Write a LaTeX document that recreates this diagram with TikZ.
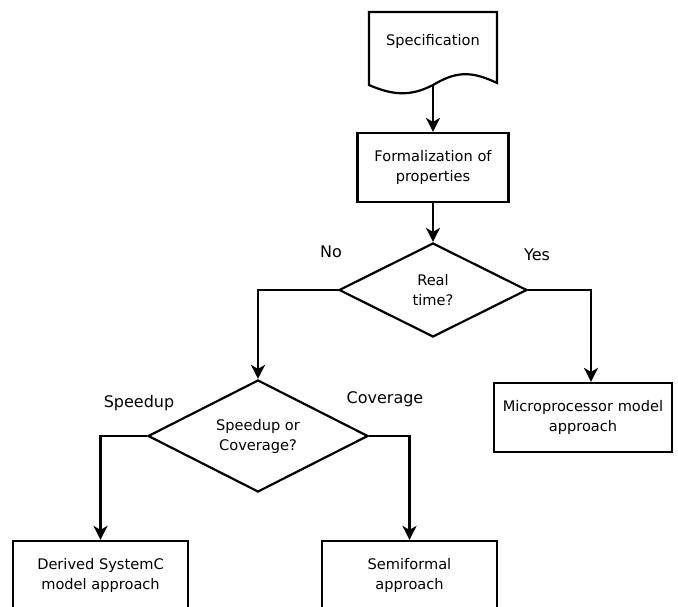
\documentclass[tikz,border=0pt]{standalone}
\usepackage{fontspec}
\setmainfont{DejaVu Sans}
\usetikzlibrary{shapes.geometric,arrows.meta,calc}
\begin{document}
\begin{tikzpicture}[x=1pt,y=-1pt,
  line width=2.2pt, line join=miter,
  txt/.style={font=\fontsize{14.6}{20}\selectfont, align=center, inner sep=0pt},
  box/.style={txt, draw, rectangle, minimum height=69pt},
  decision/.style={txt, draw, diamond, aspect=2, inner sep=0pt},
  lbl/.style={font=\fontsize{16}{20}\selectfont, inner sep=0pt},
  arr/.style={-{Stealth[length=14pt,width=14pt,inset=4pt]}}]
  \useasboundingbox (0,0) rectangle (678,607);

  % document shape with wavy bottom
  \draw (369,12) -- (497,12) -- (497,83)
        .. controls (470,70) and (455,72) .. (433,85)
        .. controls (410,97) and (392,95) .. (369,85) -- cycle;
  \node[txt] (spec) at (433,41) {Specification};
  \coordinate (specbot) at (433,85);

  \node[box, minimum width=151pt] (formal) at (433,167.5) {Formalization of\\properties};
  \node[decision, minimum width=188pt, minimum height=94pt] (real) at (433,290) {Real\\time?};
  \node[box, minimum width=178pt] (micro) at (583,417.5) {Microprocessor model\\approach};
  \node[decision, minimum width=220pt, minimum height=112pt] (cov) at (258,436) {Speedup or\\Coverage?};
  \node[box, minimum width=175pt] (derived) at (100.5,575.5) {Derived SystemC\\model approach};
  \node[box, minimum width=175pt] (semi) at (409.5,575.5) {Semiformal\\approach};

  \node[lbl] (no) at (331,252) {No};
  \node[lbl] (yes) at (537,255) {Yes};
  \node[lbl] (spd) at (139,403) {Speedup};
  \node[lbl] (cvg) at (385,399) {Coverage};

  \draw[arr] (specbot) -- (formal.north);
  \draw[arr] (formal.south) -- (real.north);
  \draw[arr] (real.west) -| (cov.north);
  \draw[arr] (real.east) -| ($(micro.north)+(8,0)$);
  \draw[arr] (cov.west) -| (derived.north);
  \draw[arr] (cov.east) -| (semi.north);
\end{tikzpicture}
\end{document}
